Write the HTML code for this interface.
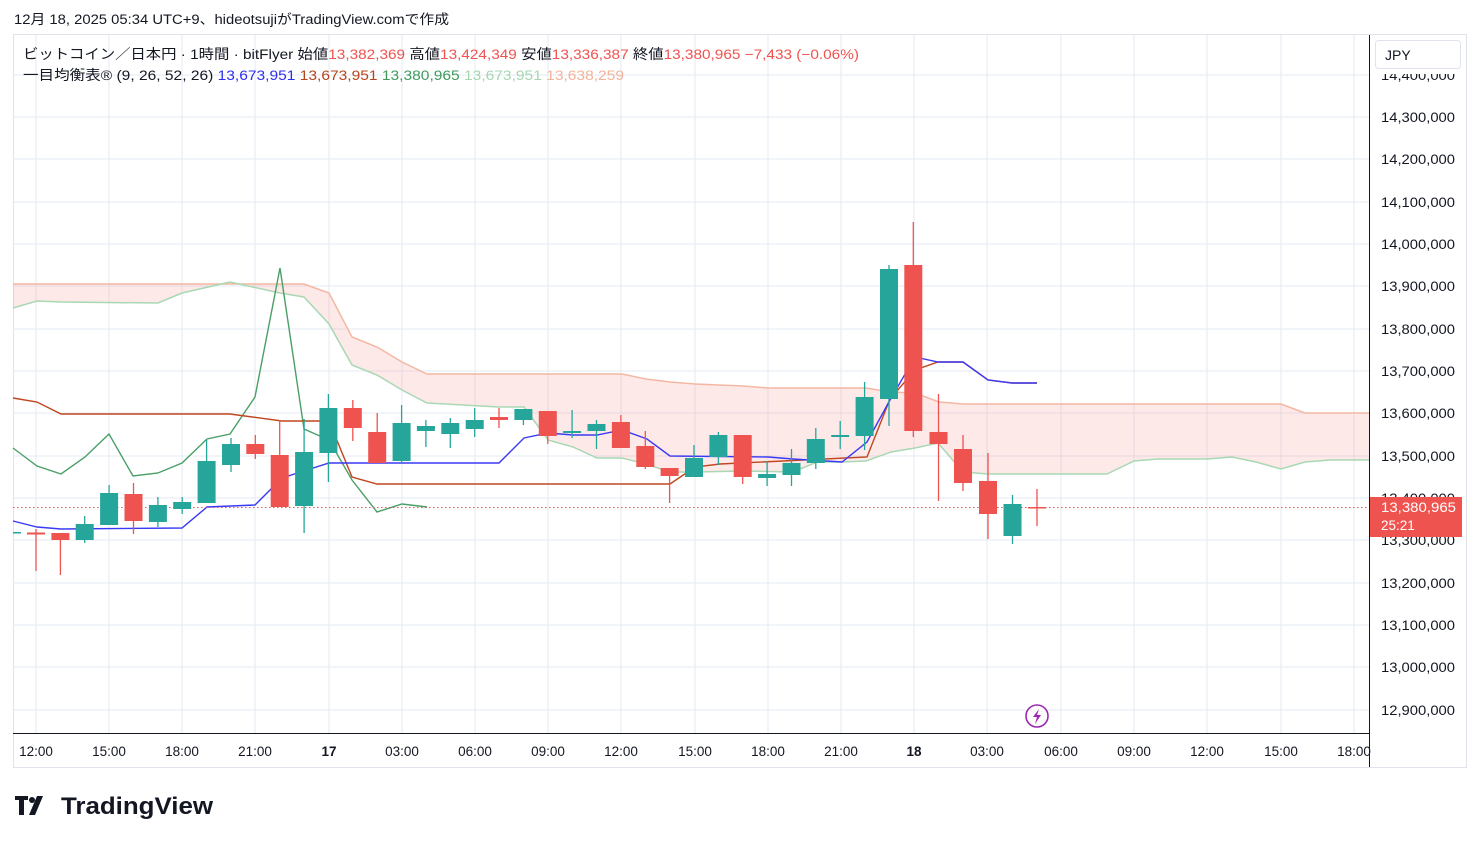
<!DOCTYPE html>
<html><head><meta charset="utf-8"><style>
body{margin:0;background:#fff;width:1479px;height:843px;overflow:hidden;font-family:"Liberation Sans","Noto Sans CJK JP",sans-serif}
svg text{font-family:"Liberation Sans","Noto Sans CJK JP",sans-serif}
</style></head><body>
<svg width="1479" height="843" viewBox="0 0 1479 843" xmlns="http://www.w3.org/2000/svg">
<rect width="1479" height="843" fill="#fff"/>
<text x="14" y="24" font-size="13.5" fill="#131722" textLength="435" lengthAdjust="spacingAndGlyphs">12月 18, 2025 05:34 UTC+9、hideotsujiがTradingView.comで作成</text>
<rect x="13.5" y="34.5" width="1453" height="733" fill="none" stroke="#e0e3eb"/>
<g stroke="#e3ebf3" stroke-width="1">
<line x1="13" x2="1369" y1="75" y2="75"/><line x1="13" x2="1369" y1="117" y2="117"/><line x1="13" x2="1369" y1="159" y2="159"/><line x1="13" x2="1369" y1="202" y2="202"/><line x1="13" x2="1369" y1="244" y2="244"/><line x1="13" x2="1369" y1="286" y2="286"/><line x1="13" x2="1369" y1="329" y2="329"/><line x1="13" x2="1369" y1="371" y2="371"/><line x1="13" x2="1369" y1="413" y2="413"/><line x1="13" x2="1369" y1="456" y2="456"/><line x1="13" x2="1369" y1="498" y2="498"/><line x1="13" x2="1369" y1="540" y2="540"/><line x1="13" x2="1369" y1="583" y2="583"/><line x1="13" x2="1369" y1="625" y2="625"/><line x1="13" x2="1369" y1="667" y2="667"/><line x1="13" x2="1369" y1="710" y2="710"/>
<line y1="35" y2="733" x1="36" x2="36"/><line y1="35" y2="733" x1="109" x2="109"/><line y1="35" y2="733" x1="182" x2="182"/><line y1="35" y2="733" x1="255" x2="255"/><line y1="35" y2="733" x1="329" x2="329"/><line y1="35" y2="733" x1="402" x2="402"/><line y1="35" y2="733" x1="475" x2="475"/><line y1="35" y2="733" x1="548" x2="548"/><line y1="35" y2="733" x1="621" x2="621"/><line y1="35" y2="733" x1="695" x2="695"/><line y1="35" y2="733" x1="768" x2="768"/><line y1="35" y2="733" x1="841" x2="841"/><line y1="35" y2="733" x1="914" x2="914"/><line y1="35" y2="733" x1="987" x2="987"/><line y1="35" y2="733" x1="1061" x2="1061"/><line y1="35" y2="733" x1="1134" x2="1134"/><line y1="35" y2="733" x1="1207" x2="1207"/><line y1="35" y2="733" x1="1281" x2="1281"/><line y1="35" y2="733" x1="1354" x2="1354"/>
</g>
<polygon fill="rgba(242,54,54,0.11)" points="13,284 304,284 329,293 352,337 377,347 402,362 427,374 548,374 622,374 646,379 670,382 695,384 743,386 768,388 866,388 891,392 915,393 939,402 963,404 1281,404 1305,413 1369,413 1369,460 1330,460 1305,462 1281,469 1256,462 1232,457 1207,459 1158,459 1134,461 1107,474 988,474 963,472 938,443 915,448 891,452 866,461 842,462 817,462 793,472 743,471 695,472 670,472 646,464 622,458 597,458 573,447 548,440 524,407 499,407 427,403 402,390 377,375 352,365 329,324 304,297 280,293 230,282 182,293 158,303 61,302 37,301 13,308"/>
<polyline fill="none" stroke="#f3b8a2" stroke-width="1.5" points="13,284 304,284 329,293 352,337 377,347 402,362 427,374 548,374 622,374 646,379 670,382 695,384 743,386 768,388 866,388 891,392 915,393 939,402 963,404 1281,404 1305,413 1369,413"/>
<polyline fill="none" stroke="#a9d8b3" stroke-width="1.5" points="13,308 37,301 61,302 158,303 182,293 230,282 280,293 304,297 329,324 352,365 377,375 402,390 427,403 499,407 524,407 548,440 573,447 597,458 622,458 646,464 670,472 695,472 743,471 793,472 817,462 842,462 866,461 891,452 915,448 938,443 963,472 988,474 1107,474 1134,461 1158,459 1207,459 1232,457 1256,462 1281,469 1305,462 1330,460 1369,460"/>
<polyline fill="none" stroke="#4a9f66" stroke-width="1.4" points="13,448 37,466 61,474 85,457 109,434 133,476 158,473 182,463 207,439 230,434 255,397 280,268 304,429 329,440 352,480 377,512 402,504 427,507"/>
<polyline fill="none" stroke="#c0461e" stroke-width="1.4" points="13,398 37,402 61,414 230,414 282,421 329,421 352,477 377,484 670,484 695,467 720,464 867,457 890,399 915,370 938,362 963,362 988,380 1012,383 1037,383"/>
<polyline fill="none" stroke="#3a3af5" stroke-width="1.4" points="13,521 37,527 61,529 182,528 207,507 255,505 282,478 329,463 499,463 524,438 548,433 573,435 597,435 622,430 647,439 670,456 768,457 793,459 842,462 867,442 890,400 915,357 938,362 963,362 988,380 1012,383 1037,383"/>
<line x1="13" x2="1369" y1="507.5" y2="507.5" stroke="#ef5350" stroke-dasharray="1.5 2.5"/>
<g fill="#26a69a"><rect x="13" y="532" width="8" height="1.5"/></g>
<g stroke-width="1.3">
<g stroke="#ef5350" fill="#ef5350"><line x1="36" x2="36" y1="529" y2="571"/><rect x="27" y="532.5" width="18" height="2" stroke="none"/></g>
<g stroke="#ef5350" fill="#ef5350"><line x1="60.4" x2="60.4" y1="533" y2="575"/><rect x="51.4" y="533" width="18" height="7" stroke="none"/></g>
<g stroke="#26a69a" fill="#26a69a"><line x1="84.7" x2="84.7" y1="516" y2="543"/><rect x="75.7" y="524" width="18" height="16" stroke="none"/></g>
<g stroke="#26a69a" fill="#26a69a"><line x1="109.1" x2="109.1" y1="485" y2="525"/><rect x="100.1" y="493" width="18" height="32" stroke="none"/></g>
<g stroke="#ef5350" fill="#ef5350"><line x1="133.5" x2="133.5" y1="483" y2="534"/><rect x="124.5" y="494" width="18" height="27" stroke="none"/></g>
<g stroke="#26a69a" fill="#26a69a"><line x1="157.9" x2="157.9" y1="497" y2="527"/><rect x="148.9" y="505" width="18" height="17" stroke="none"/></g>
<g stroke="#26a69a" fill="#26a69a"><line x1="182.2" x2="182.2" y1="497" y2="514"/><rect x="173.2" y="502" width="18" height="7" stroke="none"/></g>
<g stroke="#26a69a" fill="#26a69a"><line x1="206.6" x2="206.6" y1="440" y2="503"/><rect x="197.6" y="461" width="18" height="42" stroke="none"/></g>
<g stroke="#26a69a" fill="#26a69a"><line x1="231" x2="231" y1="438" y2="472"/><rect x="222" y="444" width="18" height="21" stroke="none"/></g>
<g stroke="#ef5350" fill="#ef5350"><line x1="255.3" x2="255.3" y1="435" y2="459"/><rect x="246.3" y="444" width="18" height="10" stroke="none"/></g>
<g stroke="#ef5350" fill="#ef5350"><line x1="279.7" x2="279.7" y1="420" y2="507"/><rect x="270.7" y="455" width="18" height="52" stroke="none"/></g>
<g stroke="#26a69a" fill="#26a69a"><line x1="304.1" x2="304.1" y1="419" y2="533"/><rect x="295.1" y="452" width="18" height="54" stroke="none"/></g>
<g stroke="#26a69a" fill="#26a69a"><line x1="328.4" x2="328.4" y1="394" y2="482"/><rect x="319.4" y="408" width="18" height="45" stroke="none"/></g>
<g stroke="#ef5350" fill="#ef5350"><line x1="352.8" x2="352.8" y1="400" y2="441"/><rect x="343.8" y="408" width="18" height="20" stroke="none"/></g>
<g stroke="#ef5350" fill="#ef5350"><line x1="377.2" x2="377.2" y1="413" y2="463"/><rect x="368.2" y="432" width="18" height="31" stroke="none"/></g>
<g stroke="#26a69a" fill="#26a69a"><line x1="401.6" x2="401.6" y1="405" y2="464"/><rect x="392.6" y="423" width="18" height="38" stroke="none"/></g>
<g stroke="#26a69a" fill="#26a69a"><line x1="425.9" x2="425.9" y1="420" y2="447"/><rect x="416.9" y="426" width="18" height="5" stroke="none"/></g>
<g stroke="#26a69a" fill="#26a69a"><line x1="450.3" x2="450.3" y1="418" y2="448"/><rect x="441.3" y="423" width="18" height="11" stroke="none"/></g>
<g stroke="#26a69a" fill="#26a69a"><line x1="474.7" x2="474.7" y1="408" y2="437"/><rect x="465.7" y="420" width="18" height="9" stroke="none"/></g>
<g stroke="#ef5350" fill="#ef5350"><line x1="499" x2="499" y1="408" y2="428"/><rect x="490" y="417" width="18" height="3" stroke="none"/></g>
<g stroke="#26a69a" fill="#26a69a"><line x1="523.4" x2="523.4" y1="409" y2="425"/><rect x="514.4" y="409" width="18" height="11" stroke="none"/></g>
<g stroke="#ef5350" fill="#ef5350"><line x1="547.8" x2="547.8" y1="411" y2="444"/><rect x="538.8" y="411" width="18" height="25" stroke="none"/></g>
<g stroke="#26a69a" fill="#26a69a"><line x1="572.1" x2="572.1" y1="410" y2="438"/><rect x="563.1" y="431" width="18" height="2" stroke="none"/></g>
<g stroke="#26a69a" fill="#26a69a"><line x1="596.5" x2="596.5" y1="420" y2="449"/><rect x="587.5" y="424" width="18" height="7" stroke="none"/></g>
<g stroke="#ef5350" fill="#ef5350"><line x1="620.9" x2="620.9" y1="415" y2="448"/><rect x="611.9" y="422" width="18" height="26" stroke="none"/></g>
<g stroke="#ef5350" fill="#ef5350"><line x1="645.3" x2="645.3" y1="431" y2="469"/><rect x="636.3" y="446" width="18" height="21" stroke="none"/></g>
<g stroke="#ef5350" fill="#ef5350"><line x1="669.6" x2="669.6" y1="468" y2="503"/><rect x="660.6" y="468" width="18" height="8" stroke="none"/></g>
<g stroke="#26a69a" fill="#26a69a"><line x1="694" x2="694" y1="445" y2="477"/><rect x="685" y="458" width="18" height="19" stroke="none"/></g>
<g stroke="#26a69a" fill="#26a69a"><line x1="718.4" x2="718.4" y1="432" y2="465"/><rect x="709.4" y="435" width="18" height="22" stroke="none"/></g>
<g stroke="#ef5350" fill="#ef5350"><line x1="742.7" x2="742.7" y1="435" y2="484"/><rect x="733.7" y="435" width="18" height="42" stroke="none"/></g>
<g stroke="#26a69a" fill="#26a69a"><line x1="767.1" x2="767.1" y1="461" y2="486"/><rect x="758.1" y="474" width="18" height="4" stroke="none"/></g>
<g stroke="#26a69a" fill="#26a69a"><line x1="791.5" x2="791.5" y1="449" y2="486"/><rect x="782.5" y="463" width="18" height="12" stroke="none"/></g>
<g stroke="#26a69a" fill="#26a69a"><line x1="815.8" x2="815.8" y1="428" y2="469"/><rect x="806.8" y="439" width="18" height="24" stroke="none"/></g>
<g stroke="#26a69a" fill="#26a69a"><line x1="840.2" x2="840.2" y1="421" y2="449"/><rect x="831.2" y="435" width="18" height="2" stroke="none"/></g>
<g stroke="#26a69a" fill="#26a69a"><line x1="864.6" x2="864.6" y1="382" y2="450"/><rect x="855.6" y="397" width="18" height="39" stroke="none"/></g>
<g stroke="#26a69a" fill="#26a69a"><line x1="889" x2="889" y1="265" y2="426"/><rect x="880" y="269" width="18" height="130" stroke="none"/></g>
<g stroke="#ef5350" fill="#ef5350"><line x1="913.3" x2="913.3" y1="222" y2="437"/><rect x="904.3" y="265" width="18" height="166" stroke="none"/></g>
<g stroke="#ef5350" fill="#ef5350"><line x1="938.5" x2="938.5" y1="394" y2="501"/><rect x="929.5" y="432" width="18" height="12" stroke="none"/></g>
<g stroke="#ef5350" fill="#ef5350"><line x1="963" x2="963" y1="435" y2="491"/><rect x="954" y="449" width="18" height="34" stroke="none"/></g>
<g stroke="#ef5350" fill="#ef5350"><line x1="988" x2="988" y1="453" y2="539"/><rect x="979" y="481" width="18" height="33" stroke="none"/></g>
<g stroke="#26a69a" fill="#26a69a"><line x1="1012.5" x2="1012.5" y1="495" y2="544"/><rect x="1003.5" y="504" width="18" height="32" stroke="none"/></g>
<g stroke="#ef5350" fill="#ef5350"><line x1="1037" x2="1037" y1="489" y2="526"/><rect x="1028" y="507" width="18" height="1.5" stroke="none"/></g>
</g>
<circle cx="1037" cy="716" r="11" fill="#fff" stroke="#9c27b0" stroke-width="1.6"/>
<path d="M1039,709 L1033,717 L1037,717 L1035,724 L1041,715 L1037,715 Z" fill="#9c27b0"/>
<line x1="1369.5" x2="1369.5" y1="35" y2="767" stroke="#131722"/>
<line x1="13" x2="1369" y1="733.5" y2="733.5" stroke="#131722"/>
<g font-size="13.5" fill="#131722" text-anchor="end">
<text x="1455" y="80" textLength="74" lengthAdjust="spacingAndGlyphs">14,400,000</text><text x="1455" y="122" textLength="74" lengthAdjust="spacingAndGlyphs">14,300,000</text><text x="1455" y="164" textLength="74" lengthAdjust="spacingAndGlyphs">14,200,000</text><text x="1455" y="207" textLength="74" lengthAdjust="spacingAndGlyphs">14,100,000</text><text x="1455" y="249" textLength="74" lengthAdjust="spacingAndGlyphs">14,000,000</text><text x="1455" y="291" textLength="74" lengthAdjust="spacingAndGlyphs">13,900,000</text><text x="1455" y="334" textLength="74" lengthAdjust="spacingAndGlyphs">13,800,000</text><text x="1455" y="376" textLength="74" lengthAdjust="spacingAndGlyphs">13,700,000</text><text x="1455" y="418" textLength="74" lengthAdjust="spacingAndGlyphs">13,600,000</text><text x="1455" y="461" textLength="74" lengthAdjust="spacingAndGlyphs">13,500,000</text><text x="1455" y="503" textLength="74" lengthAdjust="spacingAndGlyphs">13,400,000</text><text x="1455" y="545" textLength="74" lengthAdjust="spacingAndGlyphs">13,300,000</text><text x="1455" y="588" textLength="74" lengthAdjust="spacingAndGlyphs">13,200,000</text><text x="1455" y="630" textLength="74" lengthAdjust="spacingAndGlyphs">13,100,000</text><text x="1455" y="672" textLength="74" lengthAdjust="spacingAndGlyphs">13,000,000</text><text x="1455" y="715" textLength="74" lengthAdjust="spacingAndGlyphs">12,900,000</text>
</g>
<rect x="1370" y="38" width="96" height="36" fill="#fff"/>
<rect x="1375.5" y="40.5" width="85" height="28" rx="3" fill="#fff" stroke="#e0e3eb"/>
<text x="1385" y="60" font-size="14" fill="#131722">JPY</text>
<rect x="1370" y="497" width="92" height="40" fill="#ef5350"/>
<text x="1381" y="512" font-size="13.5" fill="#fff" textLength="75" lengthAdjust="spacingAndGlyphs">13,380,965</text>
<text x="1381" y="530" font-size="13.5" fill="#fff">25:21</text>
<g font-size="13.5" fill="#131722" text-anchor="middle">
<text x="36" y="756">12:00</text><text x="109" y="756">15:00</text><text x="182" y="756">18:00</text><text x="255" y="756">21:00</text><text x="329" y="756" font-weight="bold">17</text><text x="402" y="756">03:00</text><text x="475" y="756">06:00</text><text x="548" y="756">09:00</text><text x="621" y="756">12:00</text><text x="695" y="756">15:00</text><text x="768" y="756">18:00</text><text x="841" y="756">21:00</text><text x="914" y="756" font-weight="bold">18</text><text x="987" y="756">03:00</text><text x="1061" y="756">06:00</text><text x="1134" y="756">09:00</text><text x="1207" y="756">12:00</text><text x="1281" y="756">15:00</text><text x="1354" y="756">18:00</text>
</g>
<g font-size="14">
<text x="23" y="59" textLength="836" lengthAdjust="spacingAndGlyphs"><tspan fill="#131722">ビットコイン／日本円 · 1時間 · bitFlyer  始値</tspan><tspan fill="#ef5350">13,382,369</tspan><tspan fill="#131722">  高値</tspan><tspan fill="#ef5350">13,424,349</tspan><tspan fill="#131722">  安値</tspan><tspan fill="#ef5350">13,336,387</tspan><tspan fill="#131722">  終値</tspan><tspan fill="#ef5350">13,380,965  −7,433 (−0.06%)</tspan></text>
<text x="23" y="80" textLength="601" lengthAdjust="spacingAndGlyphs"><tspan fill="#131722">一目均衡表® (9, 26, 52, 26)  </tspan><tspan fill="#2e2ef0">13,673,951</tspan><tspan>  </tspan><tspan fill="#b5451c">13,673,951</tspan><tspan>  </tspan><tspan fill="#3f9a5c">13,380,965</tspan><tspan>  </tspan><tspan fill="#a5d6b0">13,673,951</tspan><tspan>  </tspan><tspan fill="#f2b39a">13,638,259</tspan></text>
</g>
<g fill="#131722">
<path d="M15,796 h13 v4 h-4 v15 h-5 v-15 h-4 z"/><circle cx="32" cy="800" r="3"/><path d="M37,796 h6 l-8,19 h-6 z"/>
</g>
<text x="61" y="814" font-size="24" font-weight="bold" fill="#131722" textLength="152" lengthAdjust="spacingAndGlyphs">TradingView</text>
</svg>
</body></html>
